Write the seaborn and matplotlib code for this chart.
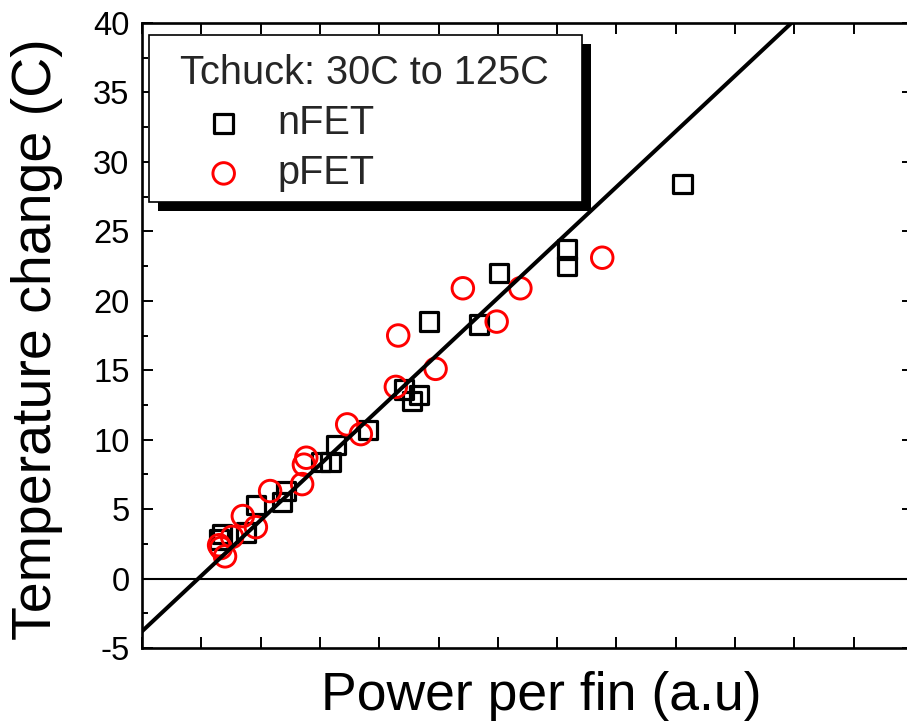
import matplotlib
matplotlib.use("Agg")
import matplotlib.pyplot as plt
from matplotlib.patches import Rectangle
from matplotlib.ticker import MultipleLocator, NullFormatter
import seaborn as sns

# Power per fin (a.u.) and temperature change (C) for each device type
nfet_power = [1.30, 1.35, 1.75, 1.92, 2.36, 2.43, 3.02, 3.18, 3.27, 3.81,
              4.42, 4.55, 4.67, 4.84, 5.68, 6.02, 7.17, 7.17, 9.11]
nfet_dtemp = [2.8, 3.2, 3.3, 5.3, 5.5, 6.3, 8.4, 8.4, 9.6, 10.7,
              13.6, 12.8, 13.2, 18.5, 18.3, 22.0, 22.5, 23.7, 28.4]

pfet_power = [1.30, 1.33, 1.40, 1.52, 1.70, 1.92, 2.16, 2.70, 2.73, 2.77,
              3.46, 3.69, 4.28, 4.32, 4.95, 5.41, 5.98, 6.38, 7.76]
pfet_dtemp = [2.4, 2.2, 1.6, 3.0, 4.5, 3.7, 6.3, 6.8, 8.2, 8.7,
              11.1, 10.4, 13.8, 17.5, 15.1, 20.9, 18.5, 20.9, 23.1]

# Linear fit shared by both devices
fit_slope = 4.0
fit_intercept = -3.8

legend_title = "Tchuck: 30C to 125C"
series_labels = ["nFET", "pFET"]
y_tick_values = [-5, 0, 5, 10, 15, 20, 25, 30, 35, 40]
x_limits = (0, 13)
y_limits = (-5, 40)

sns.set_theme(style="ticks")
plt.rcParams["font.family"] = ["Liberation Sans", "DejaVu Sans"]
plt.rcParams["axes.unicode_minus"] = False

W, H = 907, 724
fig = plt.figure(figsize=(W / 100, H / 100), dpi=100, facecolor="white")
left_px, right_px, top_px, bottom_px = 142, 913, 23, 648
ax = fig.add_axes([left_px / W, 1 - bottom_px / H,
                   (right_px - left_px) / W, (bottom_px - top_px) / H])
ax.set_facecolor("white")

# data
sns.scatterplot(x=nfet_power, y=nfet_dtemp, marker="s", s=13.3 ** 2,
                facecolors="none", edgecolor="black", linewidth=2.3,
                label=series_labels[0], ax=ax, zorder=3)
sns.scatterplot(x=pfet_power, y=pfet_dtemp, marker="o", s=15.5 ** 2,
                facecolors="none", edgecolor="#ff0000", linewidth=2.1,
                label=series_labels[1], ax=ax, zorder=3)

# fit line and zero reference
ax.axline((0, fit_intercept), slope=fit_slope, color="black", lw=2.9, zorder=4)
ax.axhline(0, color="black", lw=1.5, zorder=2)

ax.set_xlim(*x_limits)
ax.set_ylim(*y_limits)
ax.set_yticks(y_tick_values)
ax.yaxis.set_minor_locator(MultipleLocator(2.5))
ax.xaxis.set_major_locator(MultipleLocator(1))
ax.xaxis.set_major_formatter(NullFormatter())

for side in ["left", "right", "top", "bottom"]:
    ax.spines[side].set_visible(True)
    ax.spines[side].set_linewidth(1.9)
    ax.spines[side].set_color("black")

ax.tick_params(axis="both", which="both", direction="in",
               top=True, right=True, color="black", width=1.4)
ax.tick_params(axis="both", which="major", length=8)
ax.tick_params(axis="y", which="minor", length=4.3)
ax.tick_params(axis="y", which="major", labelsize=23.5, pad=9, labelcolor="black")
ax.tick_params(axis="x", which="both", labelbottom=False)

ax.set_xlabel("Power per fin (a.u)", fontsize=38.5, color="black")
ax.set_ylabel("Temperature change (C)", fontsize=40, color="black")
ax.xaxis.set_label_coords((541 - left_px) / (right_px - left_px),
                          (bottom_px - 671) / (bottom_px - top_px))
ax.yaxis.set_label_coords((63 - left_px) / (right_px - left_px),
                          (bottom_px - 339) / (bottom_px - top_px))


def to_axes(px, py):
    return ((px - left_px) / (right_px - left_px),
            (bottom_px - py) / (bottom_px - top_px))


# legend frame with a solid drop shadow
bx0, by0 = to_axes(149, 202)
bx1, by1 = to_axes(582, 35)
sx0, sy0 = to_axes(158, 211)
ax.add_patch(Rectangle((sx0, sy0), bx1 - bx0, by1 - by0, transform=ax.transAxes,
                       facecolor="black", edgecolor="black", lw=0, zorder=5,
                       clip_on=False))
ax.add_patch(Rectangle((bx0, by0), bx1 - bx0, by1 - by0, transform=ax.transAxes,
                       facecolor="white", edgecolor="black", lw=1.2, zorder=6,
                       clip_on=False))

leg = ax.legend(title=legend_title, loc="upper left",
                bbox_to_anchor=to_axes(180, 54), borderaxespad=0, borderpad=0,
                frameon=False, fontsize=28.6, title_fontsize=28.6,
                alignment="left", handlelength=2.2, handletextpad=0.25,
                labelspacing=0.3, scatterpoints=1)
leg.set_zorder(7)

fig.savefig("out.png", dpi=100, facecolor="white")
